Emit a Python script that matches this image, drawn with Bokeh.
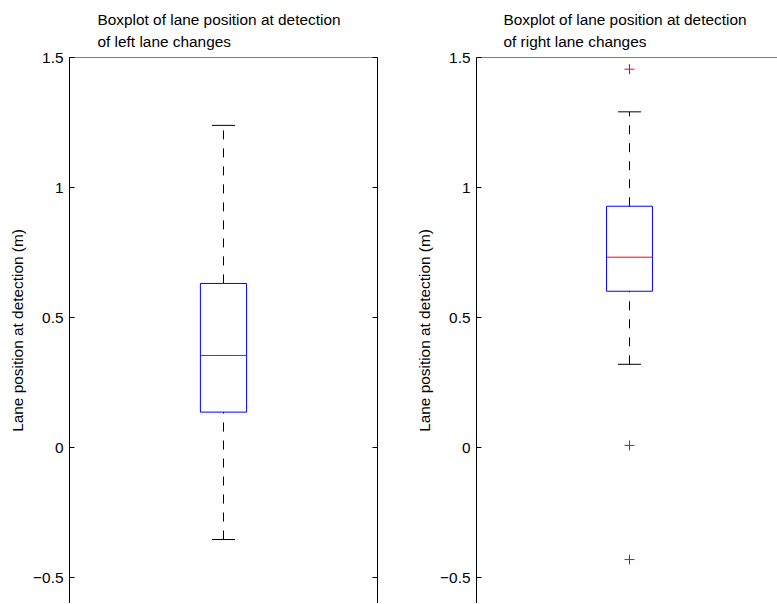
from bokeh.plotting import figure
from bokeh.models import ColumnDataSource, FixedTicker, LinearAxis, Range1d, Title, Span
from bokeh.transform import dodge
from bokeh.layouts import row
from bokeh.embed import file_html
from bokeh.resources import INLINE

# ---- data ----
left_title = ["Boxplot of lane position at detection", "of left lane changes"]
right_title = ["Boxplot of lane position at detection", "of right lane changes"]
y_label = "Lane position at detection (m)"
y_ticks = [-0.5, 0, 0.5, 1, 1.5]
y_tick_labels = ["\u22120.5", "0", "0.5", "1", "1.5"]

left_lower = -0.354
left_q1 = 0.136
left_median = 0.354
left_q3 = 0.631
left_upper = 1.239
left_outliers = []

right_lower = 0.320
right_q1 = 0.601
right_median = 0.732
right_q3 = 0.928
right_upper = 1.291
right_outliers = [1.455, 0.008, -0.431]

FONT = "Liberation Sans"
FS = "15.4px"
Y_MIN, Y_MAX = -0.6, 1.5
BOX_W = 0.15
CAP_W = 0.075
H = 603


def make_panel(lower, q1, median, q3, upper, outliers, title_lines,
               width, x_end, mbl, mbr, right_ticks, title_offset):
    p = figure(width=width, height=H, output_backend="svg", toolbar_location=None,
               x_range=Range1d(0.5, x_end), y_range=Range1d(Y_MIN, Y_MAX),
               x_axis_location=None, min_border_left=mbl, min_border_right=mbr,
               min_border_top=57, min_border_bottom=0, title=None)
    p.xgrid.visible = False
    p.ygrid.visible = False
    p.outline_line_color = None
    p.background_fill_color = "white"
    p.border_fill_color = "white"

    ax = p.yaxis[0]
    ax.ticker = FixedTicker(ticks=y_ticks)
    ax.major_label_overrides = {t: s for t, s in zip(y_ticks, y_tick_labels)}
    ax.major_tick_in = 5
    ax.major_tick_out = 0
    ax.minor_tick_line_color = None
    ax.major_label_standoff = 6
    ax.major_label_text_font = FONT
    ax.major_label_text_font_size = FS
    ax.major_label_text_color = "black"
    ax.axis_line_color = "black"
    ax.major_tick_line_color = "black"
    ax.axis_label = y_label
    ax.axis_label_text_font = FONT
    ax.axis_label_text_font_size = FS
    ax.axis_label_text_font_style = "normal"
    ax.axis_label_text_color = "black"
    ax.axis_label_standoff = 4

    if right_ticks:
        rax = LinearAxis(ticker=FixedTicker(ticks=y_ticks), major_tick_in=5, major_tick_out=0,
                         minor_tick_line_color=None,
                         major_label_overrides={t: "" for t in y_ticks},
                         major_label_standoff=0, axis_line_color="black",
                         major_tick_line_color="black")
        p.add_layout(rax, "right")

    p.add_layout(Span(location=Y_MAX, dimension="width", line_color="black", line_width=1))
    p.add_layout(Span(location=Y_MIN, dimension="width", line_color="#8a8a8a", line_width=1))

    # two-line title
    p.add_layout(Title(text="\n".join(title_lines), align="left", offset=title_offset,
                       text_font=FONT, text_font_size=FS, text_font_style="normal",
                       text_color="black", text_line_height=1.3, standoff=14), "above")

    src = ColumnDataSource(dict(x=[1], lower=[lower], q1=[q1], median=[median],
                                q3=[q3], upper=[upper]))
    # whiskers
    p.segment(x0="x", y0="q3", x1="x", y1="upper", source=src, line_color="black",
              line_width=1, line_dash="9 9")
    p.segment(x0="x", y0="lower", x1="x", y1="q1", source=src, line_color="black",
              line_width=1, line_dash="9 9")
    # caps
    p.segment(x0=dodge("x", -CAP_W / 2), x1=dodge("x", CAP_W / 2), y0="upper", y1="upper",
              source=src, line_color="black", line_width=1)
    p.segment(x0=dodge("x", -CAP_W / 2), x1=dodge("x", CAP_W / 2), y0="lower", y1="lower",
              source=src, line_color="black", line_width=1)
    # box
    p.vbar(x="x", bottom="q1", top="q3", width=BOX_W, source=src, fill_color=None,
           line_color="#0000ff", line_width=1)
    # median
    p.segment(x0=dodge("x", -BOX_W / 2), x1=dodge("x", BOX_W / 2), y0="median", y1="median",
              source=src, line_color="#ff0000", line_width=1)
    # outliers
    if outliers:
        osrc = ColumnDataSource(dict(x=[1] * len(outliers), y=outliers))
        p.scatter(x="x", y="y", source=osrc, marker="cross", size=10,
                  line_color="#ff0000", line_width=1)
    return p


W1 = 407
W2 = 777 - W1
p1 = make_panel(left_lower, left_q1, left_median, left_q3, left_upper, left_outliers,
                left_title, W1, 1.5, 69, W1 - 69 - 308, True, 28)
frame2 = W2 - 69
p2 = make_panel(right_lower, right_q1, right_median, right_q3, right_upper, right_outliers,
                right_title, W2, 0.5 + frame2 / 306.0, 69, 0, False, 27)

layout = row(p1, p2)
open("out.html", "w").write(file_html(layout, INLINE))
